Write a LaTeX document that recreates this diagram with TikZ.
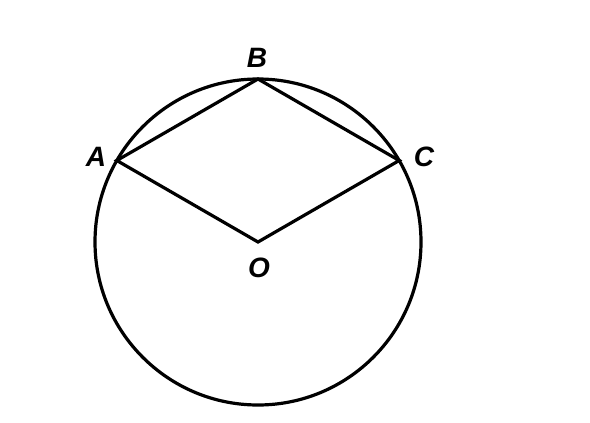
\documentclass[tikz,border=0pt]{standalone}
\usepackage{fontspec}
\setmainfont{Liberation Sans}
\begin{document}
\begin{tikzpicture}[x=1pt,y=-1pt,
  edge/.style={line width=3.2pt,line join=miter},
  lbl/.style={font=\fontsize{28}{30}\selectfont\bfseries\itshape,inner sep=0pt}]
\useasboundingbox (0,0) rectangle (590,423);
\coordinate (O) at (258,242);
\coordinate (B) at (258,79);
\coordinate (A) at (116.8,160.5);
\coordinate (C) at (399.2,160.5);
\draw[edge] (O) circle[radius=163];
\draw[edge] (A) -- (B) -- (C) -- (O) -- cycle;
\node[lbl] (lB) at (257,58) {B};
\node[lbl] (lA) at (96,157) {A};
\node[lbl] (lC) at (424,157) {C};
\node[lbl] (lO) at (259,268) {O};
\end{tikzpicture}
\end{document}
